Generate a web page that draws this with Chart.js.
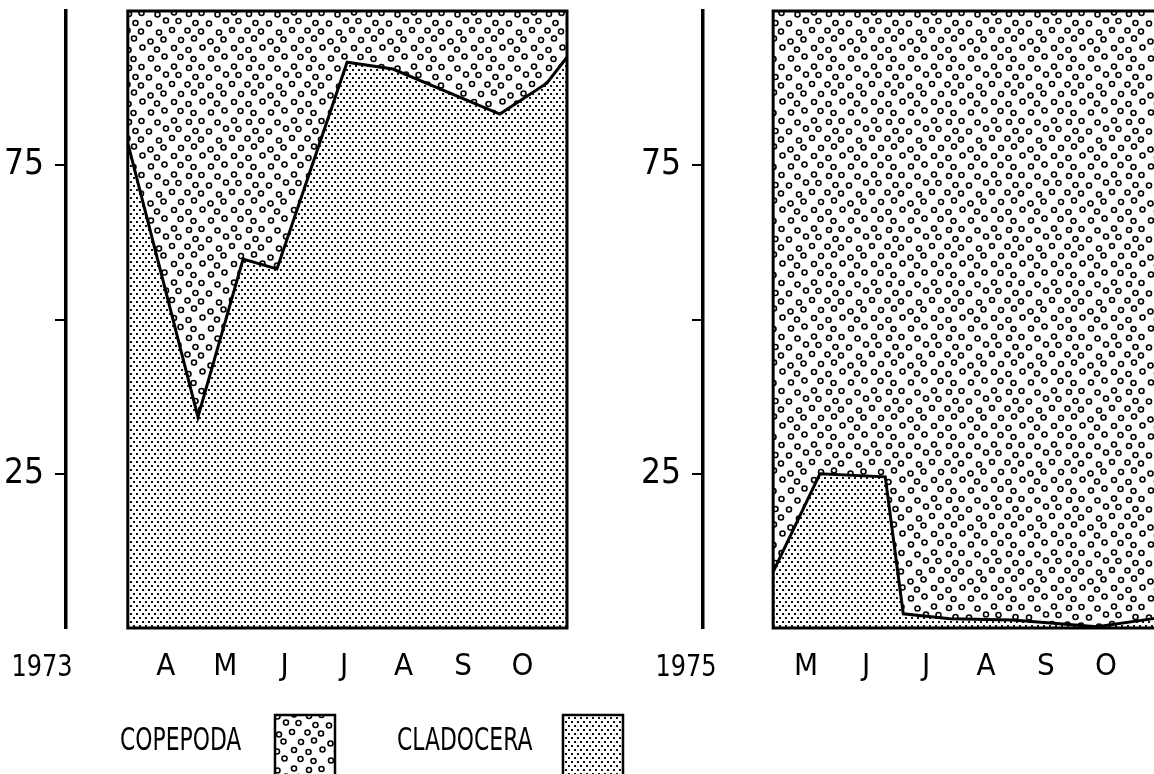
<!DOCTYPE html>
<html>
<head>
<meta charset="utf-8">
<script src="https://cdn.jsdelivr.net/npm/chart.js@4.4.1/dist/chart.umd.min.js"></script>
<style>
  html, body { margin: 0; padding: 0; background: #fff; overflow: hidden; }
  body { width: 1154px; height: 774px; position: relative; }
  .panel { position: absolute; top: 0; height: 774px; }
  #p1973 { left: 0; width: 640px; }
  #p1975 { left: 640px; width: 620px; }
</style>
</head>
<body>
<div class="panel" id="p1973"><canvas id="chart-1973"></canvas></div>
<div class="panel" id="p1975"><canvas id="chart-1975"></canvas></div>
<script>
// ── Axes ──────────────────────────────────────────────────────────────────────
const Y_TICKS       = [0, 25, 50, 75, 100];
const Y_TICK_LABELS = ['', '25', '', '75', ''];

// mois (1 = janvier, étiquette au milieu du mois)
const MONTHS_1973       = [4, 5, 6, 7, 8, 9, 10];
const MONTH_LABELS_1973 = ['A', 'M', 'J', 'J', 'A', 'S', 'O'];
const MONTHS_1975       = [5, 6, 7, 8, 9, 10];
const MONTH_LABELS_1975 = ['M', 'J', 'J', 'A', 'S', 'O'];

// ── Données (% de l'effectif) ─────────────────────────────────────────────────
const dates1973     = [3.36, 4.54, 5.30, 5.87, 7.05, 7.82, 9.62, 10.41, 10.75];
const cladocera1973 = [78.6, 34.2, 59.8, 58.2, 91.7, 90.6, 83.3, 88.3, 92.5];
const copepoda1973  = [21.4, 65.8, 40.2, 41.8,  8.3,  9.4, 16.7, 11.7,  7.5];

const dates1975     = [4.45, 5.23, 6.32, 6.62, 7.40, 8.45, 9.85, 10.85];
const cladocera1975 = [ 9.1, 25.0, 24.5,  2.3,  1.5,  1.3,  0.2,  1.6];
const copepoda1975  = [90.9, 75.0, 75.5, 97.7, 98.5, 98.7, 99.8, 98.4];

const FONT = "'Liberation Sans Narrow', 'DejaVu Sans Condensed', sans-serif";

// ── Trames ────────────────────────────────────────────────────────────────────
const RING_JITTER = [
  [0.5, -1], [-1.5, 1], [1, 0.5], [-0.5, -1.5], [1.5, 1], [-1, 0],
  [0, 1.5], [1.5, -0.5], [-1.5, -1], [0.5, 1], [-1, 1.5], [1, -1.5],
  [0, -0.5], [-1.5, 0.5], [1.5, 1.5], [-0.5, -1], [1, 0], [-1, -1.5],
  [0.5, 1.5], [-1.5, -0.5], [1, 1], [0, -1.5], [-0.5, 0.5], [1.5, -1],
];

function ringPattern() {
  const c = document.createElement('canvas');
  c.width = 60; c.height = 54;
  const g = c.getContext('2d');
  g.fillStyle = '#fff'; g.fillRect(0, 0, 60, 54);
  g.strokeStyle = '#000'; g.lineWidth = 1.6;
  for (let r = 0; r < 6; r++) {
    for (let k = 0; k < 4; k++) {
      const [jx, jy] = RING_JITTER[r * 4 + k];
      const x = k * 15 + (r % 2 ? 7.5 : 0) + jx;
      const y = r * 9 + 4 + jy;
      for (const dx of [-60, 0, 60]) for (const dy of [-54, 0, 54]) {
        g.beginPath(); g.arc(x + dx, y + dy, 2.5, 0, 2 * Math.PI); g.stroke();
      }
    }
  }
  return g.createPattern(c, 'repeat');
}

function dotPattern() {
  const c = document.createElement('canvas');
  c.width = 6; c.height = 8;
  const g = c.getContext('2d');
  g.fillStyle = '#fff'; g.fillRect(0, 0, 6, 8);
  g.fillStyle = '#111';
  g.fillRect(1, 1, 2, 2);
  g.fillRect(4, 5, 2, 2);
  return g.createPattern(c, 'repeat');
}

const RINGS = ringPattern();
const DOTS  = dotPattern();

// texte étroit (police condensée resserrée horizontalement)
function narrowText(ctx, text, x, y, size, squeeze, align) {
  ctx.save();
  ctx.font = `${size}px ${FONT}`;
  const w = ctx.measureText(text).width * squeeze;
  const left = align === 'center' ? x - w / 2 : x;
  ctx.translate(left, y);
  ctx.scale(squeeze, 1);
  ctx.textAlign = 'left';
  ctx.fillText(text, 0, 0);
  ctx.restore();
}

// ── Plugins ───────────────────────────────────────────────────────────────────
// cadre du graphique (à partir du premier prélèvement)
const framePlugin = {
  id: 'frame',
  afterDatasetsDraw(chart, args, opts) {
    const { ctx, chartArea, scales } = chart;
    const left = scales.x.getPixelForValue(opts.start);
    ctx.save();
    ctx.strokeStyle = '#000';
    ctx.lineWidth = 3;
    ctx.strokeRect(left, chartArea.top, chartArea.right - left, chartArea.bottom - chartArea.top);
    ctx.restore();
  },
};

// année sous l'axe Y
const yearPlugin = {
  id: 'year',
  afterDraw(chart, args, opts) {
    const { ctx, scales } = chart;
    ctx.save();
    ctx.fillStyle = '#000';
    ctx.textBaseline = 'top';
    narrowText(ctx, opts.text, opts.x, scales.x.top + 24, 31, 0.86, 'center');
    ctx.restore();
  },
};

// légende : texte puis case tramée
const legendPlugin = {
  id: 'sideLegend',
  afterDraw(chart, args, opts) {
    if (!opts.items) return;
    const ctx = chart.ctx;
    ctx.save();
    ctx.textBaseline = 'middle';
    opts.items.forEach(it => {
      const ds = chart.data.datasets.find(d => d.label === it.label);
      ctx.fillStyle = '#000';
      narrowText(ctx, it.label, it.textX, opts.y + 27, 32, 0.76, 'left');
      ctx.fillStyle = ds.backgroundColor;
      ctx.fillRect(it.boxX, opts.y, 60, 75);
      ctx.strokeStyle = '#000';
      ctx.lineWidth = 2.5;
      ctx.strokeRect(it.boxX, opts.y, 60, 75);
    });
    ctx.restore();
  },
};

function noPadding(s) {
  s.paddingTop = 0; s.paddingBottom = 0; s.paddingLeft = 0; s.paddingRight = 0;
}

// ── Construction ──────────────────────────────────────────────────────────────
function makeChart(id, cfg) {
  const pts = vals => cfg.dates.map((x, i) => ({ x, y: vals[i] }));
  return new Chart(document.getElementById(id), {
    type: 'line',
    data: {
      datasets: [
        { label: 'CLADOCERA', data: pts(cfg.cladocera), backgroundColor: DOTS,
          borderColor: '#000', borderWidth: 3, fill: 'origin', pointRadius: 0, tension: 0 },
        { label: 'COPEPODA', data: pts(cfg.copepoda), backgroundColor: RINGS,
          borderWidth: 0, fill: '-1', pointRadius: 0, tension: 0 },
      ],
    },
    options: {
      responsive: true, maintainAspectRatio: false, animation: false,
      layout: { padding: { top: 11, right: cfg.padRight, left: 0, bottom: 0 } },
      plugins: {
        legend: { display: false },
        tooltip: { enabled: false },
        frame: { start: cfg.dates[0] },
        year: { text: cfg.year, x: cfg.yearX },
        sideLegend: cfg.legend || {},
      },
      scales: {
        x: {
          type: 'linear', min: cfg.xMin, max: cfg.xMax,
          grid: { display: false, drawTicks: false },
          border: { display: false },
          afterBuildTicks: s => { s.ticks = cfg.months.map(v => ({ value: v })); },
          afterFit: s => { s.height = 146; noPadding(s); },
          ticks: {
            autoSkip: false, maxRotation: 0, padding: 20, color: '#000',
            font: { family: FONT, size: 31 },
            callback: (v, i) => cfg.monthLabels[i],
          },
        },
        y: {
          stacked: true, min: 0, max: 100,
          afterBuildTicks: s => { s.ticks = Y_TICKS.map(v => ({ value: v })); },
          afterFit: s => { s.width = cfg.axisWidth; noPadding(s); },
          border: { display: true, color: '#000', width: 3.5 },
          grid: {
            drawOnChartArea: false, tickLength: 11, lineWidth: 2,
            color: c => [25, 50, 75].includes(c.tick && c.tick.value) ? '#000' : 'rgba(0,0,0,0)',
          },
          ticks: {
            padding: 11, color: '#000', font: { family: FONT, size: 35 },
            callback: (v, i) => Y_TICK_LABELS[i],
          },
        },
      },
    },
    plugins: [framePlugin, yearPlugin, legendPlugin],
  });
}

makeChart('chart-1973', {
  dates: dates1973, cladocera: cladocera1973, copepoda: copepoda1973,
  months: MONTHS_1973, monthLabels: MONTH_LABELS_1973,
  xMin: 2.32, xMax: 10.75, axisWidth: 66, padRight: 73,
  year: '1973', yearX: 42,
  legend: {
    y: 715,
    items: [
      { label: 'COPEPODA',  textX: 120, boxX: 275 },
      { label: 'CLADOCERA', textX: 397, boxX: 563 },
    ],
  },
});

makeChart('chart-1975', {
  dates: dates1975, cladocera: cladocera1975, copepoda: copepoda1975,
  months: MONTHS_1975, monthLabels: MONTH_LABELS_1975,
  xMin: 3.28, xMax: 11.77, axisWidth: 63, padRight: 48,
  year: '1975', yearX: 46,
});
</script>
</body>
</html>
